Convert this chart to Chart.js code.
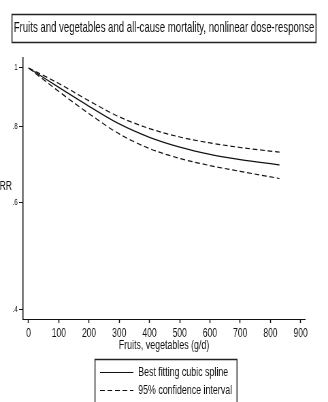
<!DOCTYPE html>
<html>
<head>
<meta charset="utf-8">
<title>Fruits and vegetables and all-cause mortality</title>
<script src="https://cdn.jsdelivr.net/npm/chart.js@4.4.1/dist/chart.umd.min.js"></script>
<style>
    html, body { margin: 0; padding: 0; background: #fff; overflow: hidden; }
    /* the chart is laid out wide and squeezed horizontally, like the narrow Stata export */
    #doseChart { display: block; transform: scaleX(0.6805); transform-origin: 0 0; }
</style>
</head>
<body>
<canvas id="doseChart" width="482" height="402"></canvas>
<script>
// Intake (g/d) and relative risks
const intake = [0, 100, 200, 300, 400, 500, 600, 700, 830];
const rrSpline = [1, 0.929, 0.865, 0.809, 0.769, 0.741, 0.721, 0.707, 0.693];
const rrUpper = [1, 0.943, 0.883, 0.831, 0.795, 0.770, 0.753, 0.740, 0.727];
const rrLower = [1, 0.915, 0.841, 0.779, 0.737, 0.710, 0.691, 0.676, 0.658];

const xTicks = [0, 100, 200, 300, 400, 500, 600, 700, 800, 900];
const yTicks = [0.4, 0.6, 0.8, 1];
const yTickLabels = ['.4', '.6', '.8', '1'];

const chartTitle = 'Fruits and vegetables and all-cause mortality, nonlinear dose-response';
const legendLabels = ['Best fitting cubic spline', '95% confidence interval'];

const FONT = "'Liberation Sans', Arial, sans-serif";
const INK = '#111';

document.addEventListener('DOMContentLoaded', function() {
    initDoseChart();
});

function toPoints(ys) {
    return intake.map((x, i) => ({ x: x, y: ys[i] }));
}

// Boxed title, horizontal "RR" label and the framed legend below the axis
const decorations = {
    id: 'decorations',
    afterDraw(chart) {
        const ctx = chart.ctx;
        const mid = chart.width / 2;
        ctx.save();
        ctx.setLineDash([]);
        ctx.strokeStyle = '#222';
        ctx.lineWidth = 1.5;
        ctx.fillStyle = INK;
        ctx.textBaseline = 'middle';

        // title with its frame
        ctx.beginPath();
        ctx.rect(17.6, 14.5, 446.8, 28);
        ctx.stroke();
        ctx.font = '14.1px ' + FONT;
        ctx.textAlign = 'center';
        ctx.fillText(chartTitle, mid, 28.5);

        // y axis title
        ctx.font = '12.5px ' + FONT;
        ctx.fillText('RR', 8.5, 187);

        // legend frame
        ctx.beginPath();
        ctx.rect(139.6, 359.5, 208.7, 60);
        ctx.stroke();

        const rows = [372, 390];
        chart.data.datasets.slice(0, 2).forEach((ds, i) => {
            ctx.strokeStyle = ds.borderColor;
            ctx.lineWidth = 1.2;
            ctx.setLineDash(ds.borderDash || []);
            ctx.beginPath();
            ctx.moveTo(147, rows[i] + 0.5);
            ctx.lineTo(196, rows[i] + 0.5);
            ctx.stroke();
            ctx.setLineDash([]);
            ctx.font = '13px ' + FONT;
            ctx.textAlign = 'left';
            ctx.fillText(legendLabels[i], 203, rows[i]);
        });
        ctx.restore();
    }
};

function initDoseChart() {
    const ctx = document.getElementById('doseChart').getContext('2d');
    new Chart(ctx, {
        type: 'line',
        data: {
            datasets: [{
                label: legendLabels[0],
                data: toPoints(rrSpline),
                borderColor: INK,
                borderWidth: 1.3
            }, {
                label: legendLabels[1],
                data: toPoints(rrUpper),
                borderColor: INK,
                borderWidth: 1.2,
                borderDash: [7, 4]
            }, {
                label: legendLabels[1],
                data: toPoints(rrLower),
                borderColor: INK,
                borderWidth: 1.2,
                borderDash: [7, 4]
            }]
        },
        options: {
            responsive: false,
            animation: false,
            devicePixelRatio: 1,
            elements: {
                point: { radius: 0 },
                line: { cubicInterpolationMode: 'monotone', fill: false }
            },
            layout: {
                padding: { top: 58, left: 0, right: 34, bottom: 45 }
            },
            scales: {
                x: {
                    type: 'linear',
                    min: -18,
                    max: 914,
                    afterBuildTicks: scale => {
                        scale.ticks = xTicks.map(v => ({ value: v }));
                    },
                    afterFit: scale => { scale.height = 38; },
                    grid: {
                        drawOnChartArea: false,
                        drawTicks: true,
                        tickLength: 4,
                        tickWidth: 1.5,
                        tickColor: INK
                    },
                    border: { display: true, color: INK, width: 1 },
                    ticks: {
                        color: INK,
                        padding: 3,
                        maxRotation: 0,
                        font: { family: FONT, size: 12.5 }
                    },
                    title: {
                        display: true,
                        text: 'Fruits, vegetables (g/d)',
                        color: INK,
                        font: { family: FONT, size: 13 },
                        padding: { top: 0, bottom: 4 }
                    }
                },
                y: {
                    type: 'logarithmic',
                    min: 0.3864,
                    max: 1.0386,
                    afterBuildTicks: scale => {
                        scale.ticks = yTicks.map(v => ({ value: v }));
                    },
                    afterFit: scale => { scale.width = 34; },
                    grid: {
                        drawOnChartArea: false,
                        drawTicks: true,
                        tickLength: 6,
                        tickWidth: 1,
                        tickColor: INK
                    },
                    border: { display: true, color: INK, width: 1.5 },
                    ticks: {
                        color: INK,
                        padding: 2,
                        font: { family: FONT, size: 9 },
                        callback: (value, index) => yTickLabels[index]
                    }
                }
            },
            plugins: {
                legend: { display: false },
                tooltip: { enabled: false },
                title: { display: false }
            }
        },
        plugins: [decorations]
    });
}
</script>
</body>
</html>
